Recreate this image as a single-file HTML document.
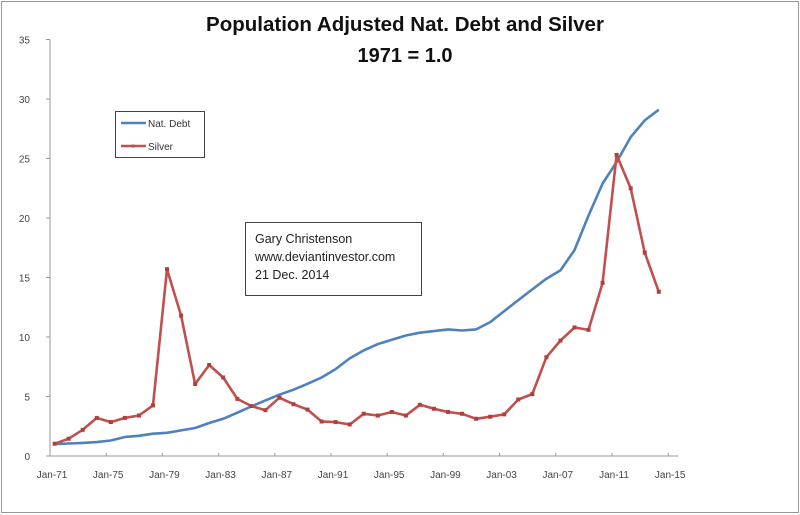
<!DOCTYPE html>
<html><head><meta charset="utf-8"><style>
html,body{margin:0;padding:0;background:#fff;}
svg{display:block;font-family:"Liberation Sans",Arial,sans-serif;}
</style></head><body>
<svg id="chart" width="800" height="515" viewBox="0 0 800 515">
<rect x="1.5" y="1.5" width="797" height="511" fill="#fff" stroke="#999"/>
<text x="405" y="31" text-anchor="middle" font-size="20.5" font-weight="bold" fill="#111">Population Adjusted Nat. Debt and Silver</text>
<text x="405" y="62" text-anchor="middle" font-size="20" font-weight="bold" fill="#111">1971 = 1.0</text>
<g id="axes"></g>
<g id="series"></g>
<g>
<rect x="115.5" y="111.5" width="89" height="46" fill="#fff" stroke="#444"/>
<line x1="121" y1="123" x2="146" y2="123" stroke="#4f81bd" stroke-width="2.5"/>
<text x="148" y="127" font-size="10" fill="#333">Nat. Debt</text>
<line x1="121" y1="146" x2="146" y2="146" stroke="#c0504d" stroke-width="2.5"/>
<rect x="131.5" y="144.5" width="3" height="3" fill="#c0504d"/>
<text x="148" y="150" font-size="10" fill="#333">Silver</text>
</g>
<g>
<rect x="245.5" y="222.5" width="176" height="73" fill="#fff" stroke="#444"/>
<text x="255" y="243" font-size="12.5" fill="#222">Gary Christenson</text>
<text x="255" y="261" font-size="12.5" fill="#222">www.deviantinvestor.com</text>
<text x="255" y="279" font-size="12.5" fill="#222">21 Dec. 2014</text>
</g>
</svg>
<script>
const years = [1971,1972,1973,1974,1975,1976,1977,1978,1979,1980,1981,1982,1983,1984,1985,1986,1987,1988,1989,1990,1991,1992,1993,1994,1995,1996,1997,1998,1999,2000,2001,2002,2003,2004,2005,2006,2007,2008,2009,2010,2011,2012,2013,2014];
const natDebt = [1.0,1.05,1.1,1.17,1.3,1.6,1.7,1.87,1.95,2.15,2.35,2.77,3.13,3.64,4.17,4.67,5.15,5.57,6.07,6.6,7.3,8.2,8.87,9.4,9.77,10.13,10.36,10.5,10.64,10.55,10.64,11.25,12.18,13.1,14.0,14.9,15.6,17.3,20.2,22.9,24.7,26.8,28.2,29.1];
const silver = [1.03,1.45,2.2,3.2,2.85,3.2,3.4,4.25,15.7,11.8,6.05,7.65,6.6,4.8,4.2,3.85,4.9,4.35,3.9,2.9,2.85,2.65,3.55,3.4,3.7,3.4,4.3,3.97,3.7,3.55,3.13,3.3,3.5,4.75,5.2,8.3,9.7,10.8,10.6,14.55,25.3,22.5,17.1,13.8];
const yTicks = [0,5,10,15,20,25,30,35];
const xTickLabels = ['Jan-71','Jan-75','Jan-79','Jan-83','Jan-87','Jan-91','Jan-95','Jan-99','Jan-03','Jan-07','Jan-11','Jan-15'];
const xTickYears = [1971,1975,1979,1983,1987,1991,1995,1999,2003,2007,2011,2015];

const NS='http://www.w3.org/2000/svg';
const X0=50, PX_YR=14.05, Y0=456, PX_U=11.9;
function xAxis(yr){return X0+(yr-1971)*PX_YR;}
function xPt(i){return xAxis(years[i]+0.33);}
function yS(v){return Y0-v*PX_U;}
function mk(tag,attrs,parent){const e=document.createElementNS(NS,tag);for(const k in attrs)e.setAttribute(k,attrs[k]);parent.appendChild(e);return e;}
const axes=document.getElementById('axes');
const ser=document.getElementById('series');
let e=mk('line',{x1:X0,y1:yS(35),x2:X0,y2:Y0,stroke:'#999'},axes);


e=mk('line',{x1:X0,y1:Y0,x2:xAxis(2015)+10,y2:Y0,stroke:'#999'},axes);


yTicks.forEach(v=>{
  mk('line',{x1:X0-4,y1:yS(v),x2:X0,y2:yS(v),stroke:'#999'},axes);
  const t=mk('text',{x:X0-20,y:yS(v)+4,'text-anchor':'end','font-size':10,fill:'#444'},axes);
  t.textContent=v;
  
  
});
xTickYears.forEach((yr,i)=>{
  const x=xAxis(yr);
  mk('line',{x1:x,y1:Y0,x2:x,y2:Y0-3,stroke:'#999'},axes);
  const t=mk('text',{x:x+2,y:478,'text-anchor':'middle','font-size':10,fill:'#444'},axes);
  t.textContent=xTickLabels[i];
  
  
});
function line(data,color,name){
  const pts=data.map((v,i)=>xPt(i).toFixed(1)+','+yS(v).toFixed(1)).join(' ');
  const p=mk('polyline',{points:pts,fill:'none',stroke:color,'stroke-width':2.6,'stroke-linejoin':'round'},ser);
  
  
  return p;
}
line(natDebt,'#4f81bd','nat-debt-line');
line(silver,'#c0504d','silver-line');
silver.forEach((v,i)=>{
  const m=mk('rect',{x:xPt(i)-2,y:yS(v)-2,width:4,height:4,fill:'#b0403d'},ser);
  
  
});
</script>
</body></html>
